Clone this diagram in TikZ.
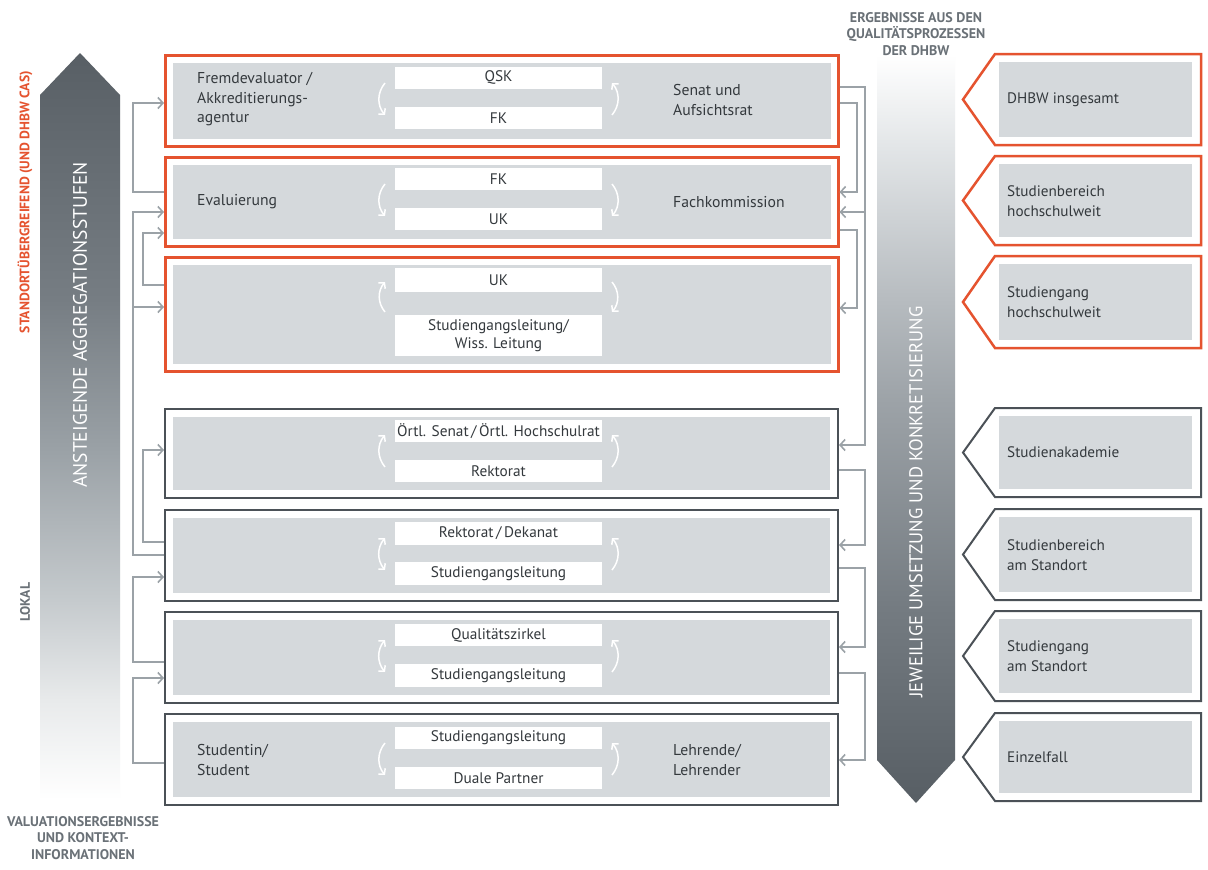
\documentclass[tikz,border=0pt]{standalone}
\usepackage{fontspec}
\setmainfont{PT Sans}
\usetikzlibrary{arrows.meta,calc}
\definecolor{orng}{HTML}{E5532F}
\definecolor{dframe}{HTML}{4B5157}
\definecolor{ingray}{HTML}{D5D9DC}
\definecolor{conng}{HTML}{9BA2A7}
\definecolor{txt}{HTML}{34393D}
\definecolor{labg}{HTML}{6A7177}
\definecolor{ua}{HTML}{E8EAEB}
\definecolor{ub}{HTML}{C5CACD}
\definecolor{uc}{HTML}{9AA1A6}
\definecolor{ud}{HTML}{767D83}
\definecolor{ue}{HTML}{585F65}
\definecolor{da}{HTML}{E3E6E8}
\definecolor{db}{HTML}{B8BDC1}
\definecolor{dc}{HTML}{9DA3A8}
\definecolor{dd}{HTML}{747B81}
\definecolor{de}{HTML}{575E64}
\pgfdeclareverticalshading{upshade}{100bp}{color(0bp)=(white); color(25bp)=(white); color(31.7bp)=(ua); color(38.4bp)=(ub); color(48.5bp)=(uc); color(58.5bp)=(ud); color(75bp)=(ue); color(100bp)=(ue)}
\pgfdeclareverticalshading{downshade}{100bp}{color(0bp)=(de); color(25bp)=(de); color(38bp)=(dd); color(52bp)=(dc); color(59bp)=(db); color(69bp)=(da); color(75bp)=(white); color(100bp)=(white)}
\tikzset{
  frameO/.style={draw=orng, line width=2.5pt, anchor=north west, minimum width=673pt, inner sep=0pt},
  frameD/.style={draw=dframe, line width=2pt, anchor=north west, minimum width=673pt, inner sep=0pt},
  pentO/.style={draw=orng, line width=2.5pt, fill=white},
  pentD/.style={draw=dframe, line width=2pt, fill=white},
  wbox/.style={fill=white, text=txt, minimum width=207pt, minimum height=22pt, inner sep=0pt, align=center, font=\fontsize{15.3}{18}\selectfont},
  lbl/.style={text=txt, anchor=west, align=left, inner sep=0pt, font=\fontsize{15.7}{19.5}\selectfont},
  plbl/.style={text=txt, anchor=west, align=left, inner sep=0pt, font=\fontsize{15.2}{19.5}\selectfont},
  conn/.style={draw=conng, line width=1.6pt, -{Straight Barb[length=5pt,width=11pt]}},
  warr/.style={draw=white, line width=1.5pt},
  wtip/.style={-{Straight Barb[length=4pt,width=9pt]}},
  wtipb/.style={{Straight Barb[length=4pt,width=9pt]}-{Straight Barb[length=4pt,width=9pt]}},
  bigarr/.style={text=white, rotate=90, font=\fontsize{19.5}{20}\selectfont},
  sidelbl/.style={rotate=90, font=\bfseries\fontsize{13.7}{15}\selectfont},
  caplbl/.style={text=labg, align=center, font=\bfseries\fontsize{14}{16.5}\selectfont}
}
\begin{document}
\begin{tikzpicture}[x=1pt,y=-1pt]
\useasboundingbox (0,0) rectangle (1208,870);
\fill[white] (0,0) rectangle (1208,870);

% big arrows
\shade[shading=upshade] (40,95) -- (80,53) -- (120,95) -- (120,800) -- (40,800) -- cycle;
\shade[shading=downshade] (877,55) -- (955,55) -- (955,760) -- (916,803) -- (877,760) -- cycle;
\node[bigarr] (aggr) at (80,325) {ANSTEIGENDE AGGREGATIONSSTUFEN};
\node[bigarr, font=\fontsize{18.5}{20}\selectfont] (umsetz) at (916,502) {JEWEILIGE UMSETZUNG UND KONKRETISIERUNG};

% side labels
\node[sidelbl, text=orng] (stand) at (25,202) {STANDORTÜBERGREIFEND (UND DHBW CAS)};
\node[sidelbl, text=labg] (lokal) at (25,602) {LOKAL};
\node[caplbl] (evalcap) at (83,838) {VALUATIONSERGEBNISSE\\UND KONTEXT-\\INFORMATIONEN};
\node[caplbl] (ergcap) at (916,34) {ERGEBNISSE AUS DEN\\QUALITÄTSPROZESSEN\\DER DHBW};

% frames
\node[frameO, minimum height=91pt] (r1) at (164,54) {};
\node[frameO, minimum height=89pt] (r2) at (164,156) {};
\node[frameO, minimum height=114pt] (r3) at (164,256) {};
\node[frameD, minimum height=89pt] (r4) at (164,408) {};
\node[frameD, minimum height=91pt] (r5) at (164,509) {};
\node[frameD, minimum height=91pt] (r6) at (164,611) {};
\node[frameD, minimum height=91pt] (r7) at (164,713) {};
\foreach \r in {r1,r2,r3,r4,r5,r6,r7}{
  \fill[ingray] ($(\r.north west)+(9,9)$) rectangle ($(\r.south east)+(-9,-9)$);
}

% white boxes
\node[wbox] (w1a) at (498.5,77.5) {QSK};
\node[wbox] (w1b) at (498.5,118) {FK};
\node[wbox] (w2a) at (498.5,179) {FK};
\node[wbox] (w2b) at (498.5,219) {UK};
\node[wbox, minimum height=24pt] (w3a) at (498.5,280) {UK};
\node[wbox, minimum height=41pt] (w3b) at (498.5,335.5) {Studiengangsleitung/\\Wiss. Leitung};
\node[wbox] (w4a) at (498.5,431) {Örtl. Senat\,/\,Örtl. Hochschulrat};
\node[wbox] (w4b) at (498.5,471) {Rektorat};
\node[wbox, minimum height=23pt] (w5a) at (498.5,533.5) {Rektorat\,/\,Dekanat};
\node[wbox, minimum height=23pt] (w5b) at (498.5,573.5) {Studiengangsleitung};
\node[wbox] (w6a) at (498.5,635) {Qualitätszirkel};
\node[wbox, minimum height=23pt] (w6b) at (498.5,675.5) {Studiengangsleitung};
\node[wbox] (w7a) at (498.5,738) {Studiengangsleitung};
\node[wbox] (w7b) at (498.5,778) {Duale Partner};

% side texts in rows
\node[lbl] (t1l) at (197,99.5) {Fremdevaluator /\\Akkreditierungs-\\agentur};
\node[lbl] (t1r) at (673,100) {Senat und\\Aufsichtsrat};
\node[lbl] (t2l) at (197,202) {Evaluierung};
\node[lbl] (t2r) at (673,202) {Fachkommission};
\node[lbl] (t7l) at (197,760) {Studentin/\\Student};
\node[lbl] (t7r) at (673,760) {Lehrende/\\Lehrender};

% white curved arrows (left)
\draw[warr,wtip] (385,83) to[bend right=40] (385,115);
\draw[warr,wtip] (385,184) to[bend right=40] (385,216);
\draw[warr,wtip] (385,312) to[bend left=40] (385,282);
\draw[warr,wtip] (385,467) to[bend left=40] (385,435);
\draw[warr,wtipb] (385,538) to[bend right=40] (385,570);
\draw[warr,wtipb] (385,640) to[bend right=40] (385,672);
\draw[warr,wtip] (385,743) to[bend right=40] (385,775);
% white curved arrows (right)
\draw[warr,wtip] (612,115) to[bend right=40] (612,83);
\draw[warr,wtip] (612,184) to[bend left=40] (612,216);
\draw[warr,wtip] (612,282) to[bend left=40] (612,312);
\draw[warr,wtip] (612,467) to[bend right=40] (612,435);
\draw[warr,wtip] (612,570) to[bend right=40] (612,538);
\draw[warr,wtip] (612,672) to[bend right=40] (612,640);
\draw[warr,wtip] (612,775) to[bend right=40] (612,743);

% left connectors
\draw[conn] (r2.west |- 0,192) -| (133,103) -- (r1.west |- 0,103);
\draw[conn] (r5.west |- 0,555) -| (133,212) -- (r2.west |- 0,212);
\draw[conn] (133,307) -- (r3.west |- 0,307);
\draw[conn] (r3.west |- 0,285) -| (143,233) -- (r2.west |- 0,233);
\draw[conn] (r5.west |- 0,542) -| (143,450) -- (r4.west |- 0,450);
\draw[conn] (r6.west |- 0,662) -| (133,577) -- (r5.west |- 0,577);
\draw[conn] (r7.west |- 0,763) -| (133,678) -- (r6.west |- 0,678);

% right connectors
\draw[conn] (r1.east |- 0,103) -| (857,192) -- (r2.east |- 0,192);
\draw[conn] (r1.east |- 0,87) -| (865,445) -- (r4.east |- 0,445);
\draw[conn] (865,212) -- (r2.east |- 0,212);
\draw[conn] (r2.east |- 0,230) -| (857,308) -- (r3.east |- 0,308);
\draw[conn] (r4.east |- 0,470) -| (865,545) -- (r5.east |- 0,545);
\draw[conn] (r5.east |- 0,568) -| (865,647) -- (r6.east |- 0,647);
\draw[conn] (r6.east |- 0,673) -| (865,760) -- (r7.east |- 0,760);

% right pentagons
\foreach \t/\b/\s in {54/145/pentO,156/245/pentO,256/348/pentO,408/497/pentD,509/600/pentD,611/701/pentD,713/801/pentD}{
  \path[\s] (1201,\t) -- (995,\t) -- (963,{(\t+\b)/2}) -- (995,\b) -- (1201,\b) -- cycle;
  \fill[ingray] (999,\t+8) rectangle (1192,\b-8);
}
\node[plbl] (p1) at (1007,99.5) {DHBW insgesamt};
\node[plbl] (p2) at (1007,201) {Studienbereich\\hochschulweit};
\node[plbl] (p3) at (1007,302) {Studiengang\\hochschulweit};
\node[plbl] (p4) at (1007,452.5) {Studienakademie};
\node[plbl] (p5) at (1007,555) {Studienbereich\\am Standort};
\node[plbl] (p6) at (1007,656) {Studiengang\\am Standort};
\node[plbl] (p7) at (1007,757) {Einzelfall};
\end{tikzpicture}
\end{document}
